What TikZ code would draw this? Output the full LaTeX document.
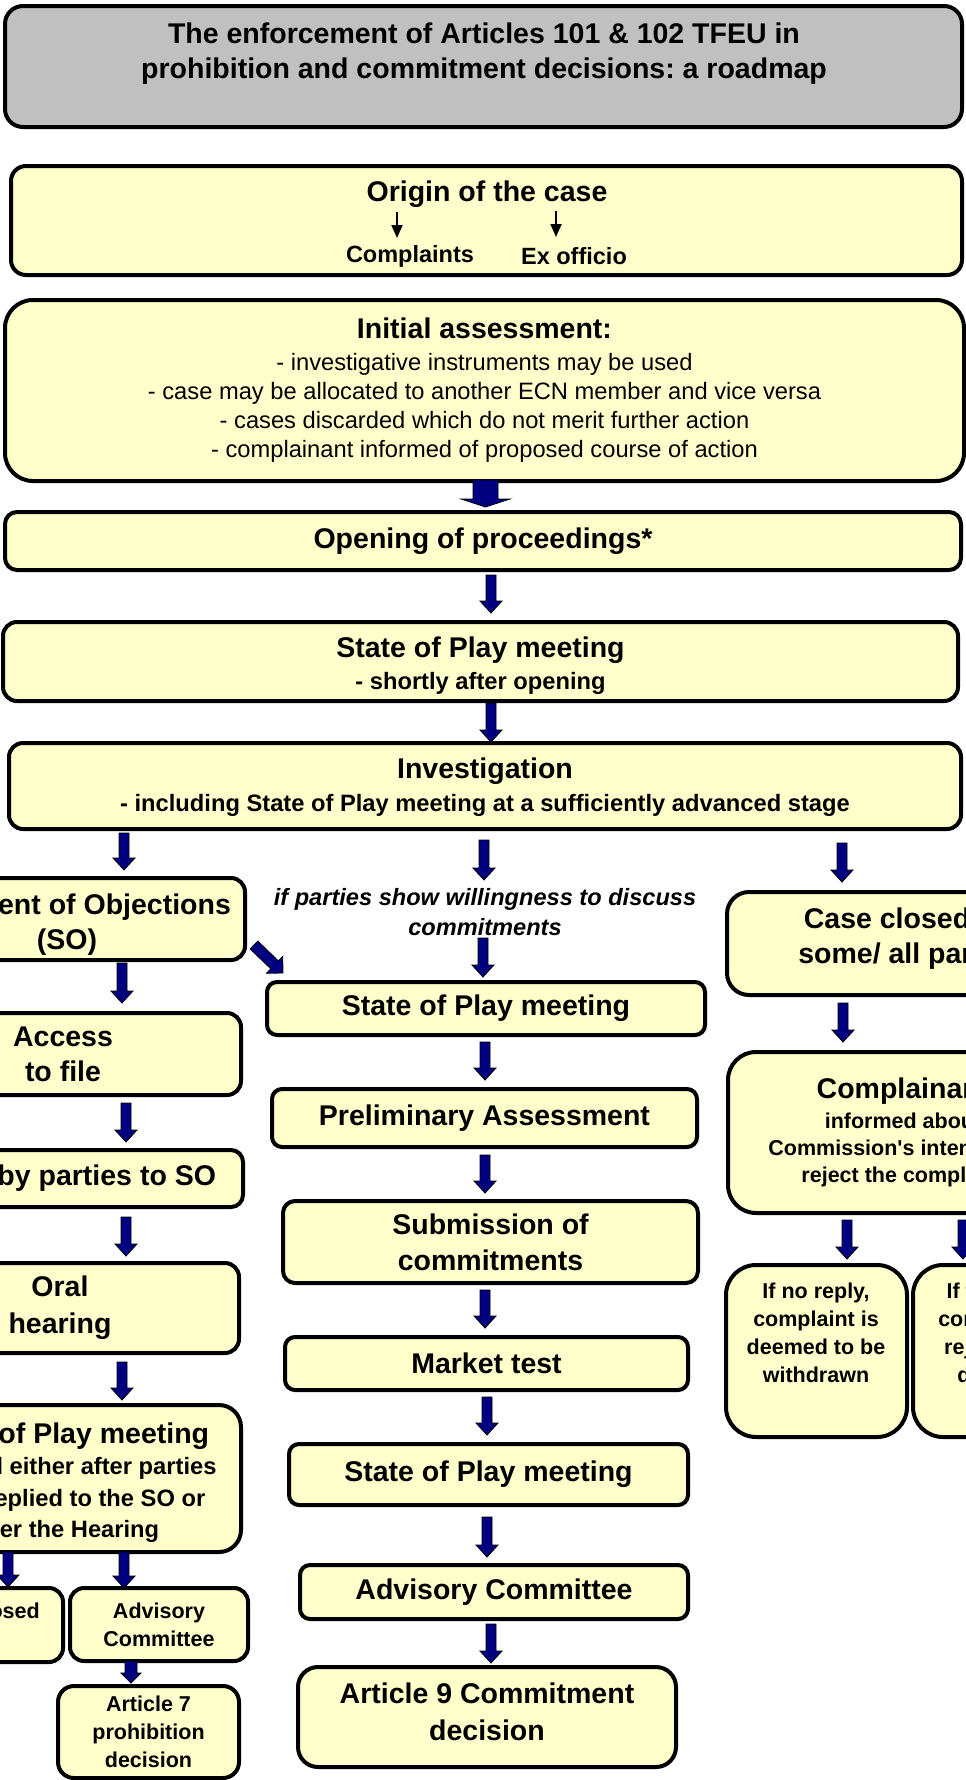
\documentclass[tikz,border=0pt]{standalone}
\usepackage{fontspec}
\setmainfont{Liberation Sans}
\usetikzlibrary{calc,arrows.meta}
\definecolor{boxyellow}{HTML}{FFFFCC}
\definecolor{titlegray}{HTML}{C0C0C0}
\definecolor{navyarrow}{HTML}{000080}
\frenchspacing

\newcommand\hdfont{\fontsize{28.5}{36}\selectfont\bfseries}
\newcommand\subfont{\fontsize{23.7}{31}\selectfont\bfseries}
\newcommand\smfont{\fontsize{21.5}{28}\selectfont\bfseries}
% invisible struts that move a box's text down (top) or up (bottom)
\newcommand\padtop[1]{\rule{0pt}{#1}}
\newcommand\padbot[1]{\rule[-#1]{0pt}{0pt}}

\tikzset{
  flow/.style={draw=black, line width=4pt, fill=boxyellow, rounded corners=#1, align=center, inner sep=0pt},
  flow/.default=12pt,
  blockarrow/.style={fill=navyarrow, draw=black, line width=0.8pt, line join=miter},
  smallarrow/.style={draw=black, line width=1.8pt, -{Triangle[width=11pt,length=13pt]}},
}
% box from corners: [radius]{name}{x1}{y1}{x2}{y2}{options}
\newcommand\flowbox[7][12pt]{\node[flow=#1, minimum width={(#5)-(#3)}, minimum height={(#6)-(#4)}, #7] (#2) at ({((#3)+(#5))/2},{((#4)+(#6))/2})}
% block arrow between two named coordinates
\newcommand\blockarr[5]{%
  \coordinate (bh) at ($(#2)!#5pt!(#1)$);
  \filldraw[blockarrow] ($(#1)!#3pt!90:(#2)$) -- ($(bh)!#3pt!90:(#2)$) -- ($(bh)!#4pt!90:(#2)$) -- (#2) -- ($(bh)!#4pt!-90:(#2)$) -- ($(bh)!#3pt!-90:(#2)$) -- ($(#1)!#3pt!-90:(#2)$) -- cycle;}
\newcommand\vblk[4]{\coordinate (#1t) at (#2,#3); \coordinate (#1h) at (#2,#4); \blockarr{#1t}{#1h}{5}{11}{12}}

\begin{document}
\begin{tikzpicture}[x=1pt,y=-1pt]
\useasboundingbox (0,0) rectangle (966,1780);
\clip (0,0) rectangle (966,1780);

% title
\flowbox[18pt]{title}{5}{6}{962}{127}{fill=titlegray}{};
\node[font=\fontsize{28.5}{35}\selectfont\bfseries, align=center] (titletext) at (484,54) {The enforcement of Articles 101 \& 102 TFEU in\\prohibition and commitment decisions: a roadmap};

% origin
\flowbox[15pt]{origin}{11}{166}{962}{275}{}{};
\node[font=\hdfont] (origintext) at (487,194) {Origin of the case};
\node[font=\fontsize{23.5}{28}\selectfont\bfseries] (complaints) at (410,256) {Complaints};
\node[font=\fontsize{23.5}{28}\selectfont\bfseries] (exofficio) at (574,256) {Ex officio};
\coordinate (o1t) at (397,212); \coordinate (o1h) at (397,238);
\coordinate (o2t) at (556,211); \coordinate (o2h) at (556,237);
\draw[smallarrow] (o1t) -- (o1h);
\draw[smallarrow] (o2t) -- (o2h);

% initial assessment
\flowbox[28pt]{initial}{5}{300}{964}{481}{font=\fontsize{23.7}{29}\selectfont}{{\hdfont Initial assessment:}\\[3pt]- investigative instruments may be used\\- case may be allocated to another ECN member and vice versa\\- cases discarded which do not merit further action\\- complainant informed of proposed course of action};

\flowbox{open}{5}{512}{961}{570}{font=\hdfont}{Opening of proceedings*};
\flowbox[14pt]{sop1}{3}{622}{958}{701}{font=\fontsize{28.5}{32}\selectfont\bfseries}{\padtop{29pt}State of Play meeting\\{\subfont - shortly after opening}};
\flowbox[14pt]{invest}{9}{743}{961}{829}{font=\fontsize{28.5}{33}\selectfont\bfseries}{\padtop{24pt}Investigation\\{\subfont - including State of Play meeting at a sufficiently advanced stage}};

% left column
\flowbox[14pt]{so}{-111}{878}{245}{960}{font=\fontsize{28.5}{35}\selectfont\bfseries}{\padtop{32pt}Statement of Objections\\(SO)};
\flowbox[14pt]{access}{-115}{1013}{241}{1095}{font=\fontsize{28.5}{35}\selectfont\bfseries}{Access\\to file};
\flowbox[12pt]{reply}{-115}{1150}{243}{1207}{font=\hdfont}{Reply by parties to SO};
\flowbox[14pt]{oral}{-119}{1263}{239}{1353}{font=\fontsize{28.5}{37}\selectfont\bfseries}{Oral\\hearing};
\flowbox[22pt]{sopL}{-111}{1405}{241}{1552}{font=\fontsize{23.7}{31.5}\selectfont\bfseries}{{\hdfont\padtop{29pt}State of Play meeting}\\- is held either after parties\\have replied to the SO or\\after the Hearing};
\flowbox[14pt]{closedL}{-150}{1588}{63}{1662}{}{};
\node[font=\smfont] (closedLtext) at (-23,1611) {Case closed};
\flowbox[14pt]{acL}{70}{1588}{248}{1661}{font=\smfont}{Advisory\\Committee};
\flowbox[16pt]{art7}{58}{1686}{239}{1778}{font=\smfont}{Article 7\\prohibition\\decision};

% middle column
\node[font=\fontsize{23.6}{30}\selectfont\bfseries\itshape, align=center] (cond) at (485,912) {if parties show willingness to discuss\\commitments};
\flowbox[10pt]{sopM}{267}{982}{705}{1035}{font=\hdfont}{State of Play meeting};
\flowbox[10pt]{prelim}{272}{1089}{697}{1147}{font=\hdfont}{Preliminary Assessment};
\flowbox[12pt]{submit}{283}{1201}{698}{1283}{font=\hdfont}{Submission of\\commitments};
\flowbox[10pt]{market}{285}{1337}{688}{1390}{font=\hdfont}{Market test};
\flowbox[10pt]{sopM2}{289}{1444}{688}{1505}{font=\hdfont}{State of Play meeting};
\flowbox[10pt]{acM}{300}{1565}{688}{1619}{font=\hdfont}{Advisory Committee};
\flowbox[20pt]{art9}{298}{1667}{676}{1767}{font=\fontsize{28.5}{37}\selectfont\bfseries}{Article 9 Commitment\\decision\padbot{11pt}};

% right column
\flowbox[22pt]{closedR}{727}{892}{1093}{995}{font=\fontsize{28.5}{35}\selectfont\bfseries}{Case closed for\\some/ all parties\padbot{16pt}};
\flowbox[28pt]{compl}{728}{1052}{1078}{1213}{font=\fontsize{21.5}{27}\selectfont\bfseries}{{\hdfont Complainant}\\[3pt]informed about\\Commission\textquotesingle s intention to\\reject the complaint};
\flowbox[30pt]{noreply}{726}{1265}{907}{1437}{}{};
\node[font=\smfont, align=center] (noreplytext) at (816,1333) {If no reply,\\complaint is\\deemed to be\\withdrawn};
\flowbox[30pt]{replied}{913}{1265}{1094}{1437}{}{};
\node[font=\smfont, align=center] (repliedtext) at (1001,1333) {If the reply\\complaint is\\rejected by\\decision};

% block arrows
\coordinate (a1t) at (485.5,480); \coordinate (a1h) at (485.5,507); \blockarr{a1t}{a1h}{12.5}{24.5}{8}
\vblk{a2}{491}{575}{613}
\vblk{a3}{491}{703}{742}
\vblk{a4}{124}{833}{870}
\vblk{a5}{484}{840}{880}
\vblk{a6}{842}{843}{882}
\vblk{a7}{122}{963}{1003}
\vblk{a8}{126}{1103}{1142}
\vblk{a9}{126}{1217}{1256}
\vblk{a10}{122}{1362}{1400}
\vblk{a11}{8}{1552}{1587}
\vblk{a12}{124}{1552}{1588}
\coordinate (a13t) at (131,1661); \coordinate (a13h) at (131,1683); \blockarr{a13t}{a13h}{6}{10}{10}
\vblk{a14}{483}{938}{977}
\vblk{a15}{485}{1042}{1080}
\vblk{a16}{485}{1155}{1193}
\vblk{a17}{485}{1290}{1328}
\vblk{a18}{487}{1397}{1435}
\vblk{a19}{487}{1517}{1557}
\vblk{a20}{491}{1624}{1663}
\vblk{a21}{843}{1003}{1042}
\vblk{a22}{847}{1220}{1259}
\vblk{a23}{963}{1220}{1259}
\coordinate (dgt) at (254,945); \coordinate (dgh) at (283,973); \blockarr{dgt}{dgh}{5.5}{11.7}{11.7}
\end{tikzpicture}
\end{document}
